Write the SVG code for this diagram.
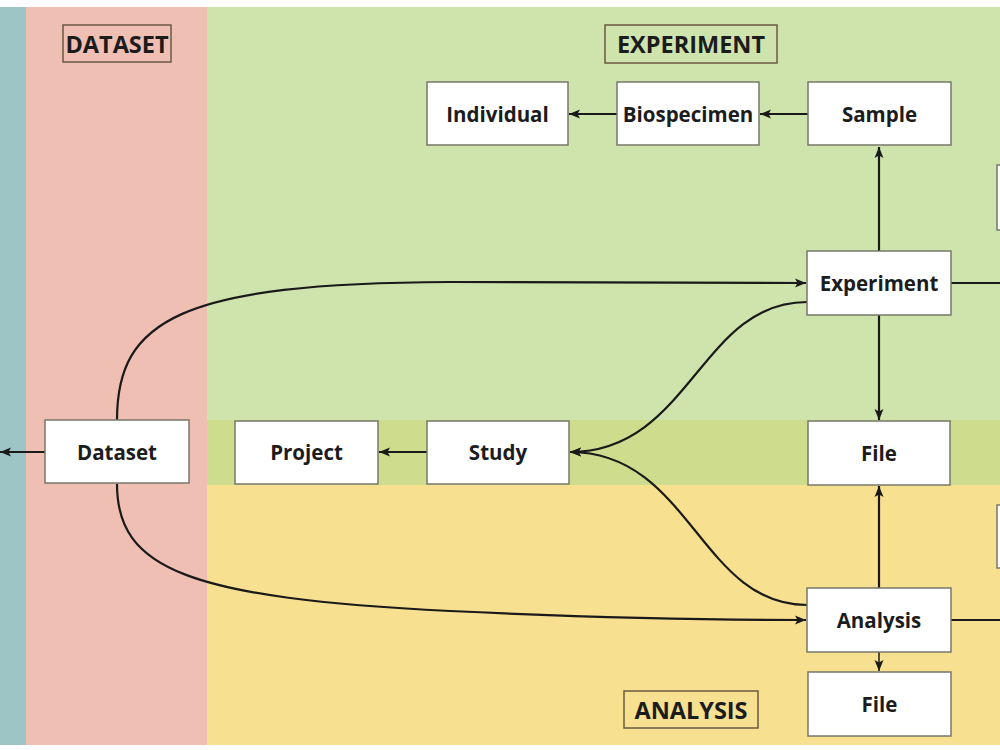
<svg xmlns="http://www.w3.org/2000/svg" width="1000" height="750" viewBox="0 0 1000 750">
<defs>
<marker id="arr" viewBox="0 0 11 10" refX="11" refY="5" markerWidth="11" markerHeight="10" markerUnits="userSpaceOnUse" orient="auto">
<path d="M0,0.5 L11,5 L0,9.5 L2.5,5 Z" fill="#1a1a1a"/>
</marker>
<style>
.node rect{fill:#ffffff;stroke:#77786a;stroke-width:1.5}
.node text{font-family:"Open Sans","Noto Sans","Liberation Sans",sans-serif;font-weight:700;font-size:20.5px;fill:#1c1c1c;text-anchor:middle;dominant-baseline:central}
.lbl rect{fill:none;stroke:#6b5a42;stroke-width:1.5}
.lbl text{font-family:"Open Sans","Noto Sans","Liberation Sans",sans-serif;font-weight:700;font-size:23.5px;fill:#1c1c1c;text-anchor:middle;dominant-baseline:central}
.edge{fill:none;stroke:#1a1a1a;stroke-width:2.2}
</style>
</defs>
<rect x="0" y="0" width="1000" height="750" fill="#ffffff"/>
<g id="background">
<rect x="0" y="7" width="26" height="738" fill="#9ec5c6"/>
<rect x="26" y="7" width="181" height="738" fill="#f0bfb3"/>
<rect x="207" y="7" width="793" height="413" fill="#cfe4ac"/>
<rect x="207" y="420" width="793" height="65" fill="#cddc8d"/>
<rect x="207" y="485" width="793" height="260" fill="#f7e08f"/>
</g>
<g id="labels">
<g class="lbl" id="label-dataset"><rect x="63" y="25" width="108" height="37"/><text x="117" y="44">DATASET</text></g>
<g class="lbl" id="label-experiment"><rect x="605" y="25" width="172" height="38"/><text x="691" y="44">EXPERIMENT</text></g>
<g class="lbl" id="label-analysis"><rect x="624" y="691" width="134" height="37"/><text x="691" y="710">ANALYSIS</text></g>
</g>
<g id="connectors">
<path class="edge" d="M45,452 L0,452" marker-end="url(#arr)"/>
<path class="edge" d="M808,114 L760,114" marker-end="url(#arr)"/>
<path class="edge" d="M617,114 L569,114" marker-end="url(#arr)"/>
<path class="edge" d="M879,251 L879,147" marker-end="url(#arr)"/>
<path class="edge" d="M879,315 L879,420" marker-end="url(#arr)"/>
<path class="edge" d="M879,588 L879,486" marker-end="url(#arr)"/>
<path class="edge" d="M879,652 L879,671" marker-end="url(#arr)" style="stroke-width:1.5"/>
<path class="edge" d="M427,452 L379,452" marker-end="url(#arr)"/>
<path class="edge" d="M807,302 C700,302 690,452 570,452" marker-end="url(#arr)"/>
<path class="edge" d="M807,605 C700,605 690,452 570,452" marker-end="url(#arr)"/>
<path class="edge" d="M117,420 C117,320 180,283 450,282 L806,283" marker-end="url(#arr)"/>
<path class="edge" d="M117,484 C117,570 190,598 450,611 C600,618 700,620 806,620" marker-end="url(#arr)"/>
<path class="edge" d="M951,283 L1000,283"/>
<path class="edge" d="M951,620 L1000,620"/>
</g>
<g class="node" id="node-individual"><rect x="427" y="82" width="141" height="63"/><text x="497.5" y="114">Individual</text></g>
<g class="node" id="node-biospecimen"><rect x="617" y="82" width="142" height="63"/><text x="688" y="114">Biospecimen</text></g>
<g class="node" id="node-sample"><rect x="808" y="82" width="143" height="63"/><text x="879.5" y="114">Sample</text></g>
<g class="node" id="node-experiment"><rect x="807" y="251" width="144" height="64"/><text x="879" y="283">Experiment</text></g>
<g class="node" id="node-dataset"><rect x="45" y="420" width="144" height="63"/><text x="117" y="452">Dataset</text></g>
<g class="node" id="node-project"><rect x="235" y="421" width="143" height="63"/><text x="306.5" y="452">Project</text></g>
<g class="node" id="node-study"><rect x="427" y="421" width="142" height="63"/><text x="498" y="452">Study</text></g>
<g class="node" id="node-file-exp"><rect x="808" y="421" width="142" height="64"/><text x="879" y="453">File</text></g>
<g class="node" id="node-analysis"><rect x="807" y="588" width="144" height="64"/><text x="879" y="620">Analysis</text></g>
<g class="node" id="node-file-ana"><rect x="808" y="672" width="143" height="64"/><text x="879.5" y="704">File</text></g>
<g class="node" id="node-partial-top"><rect x="997" y="165" width="10" height="65"/></g>
<g class="node" id="node-partial-bottom"><rect x="997" y="505" width="10" height="63"/></g>
</svg>
